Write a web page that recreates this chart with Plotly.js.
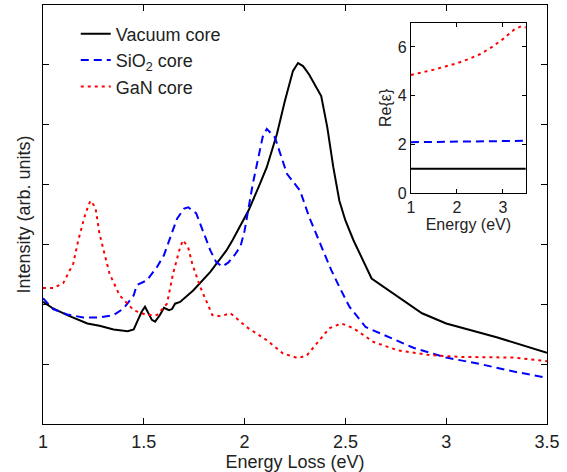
<!DOCTYPE html>
<html>
<head>
<meta charset="utf-8">
<script src="https://cdn.plot.ly/plotly-3.0.1.min.js"></script>
<style>html,body{margin:0;padding:0;background:#fff;}#chart{width:567px;height:472px;}</style>
</head>
<body>
<div id="chart"></div>
<script>
// Main panel: intensity vs energy loss
const vacX = [1.00,1.05,1.12,1.22,1.28,1.35,1.42,1.45,1.47,1.49,1.506,1.52,1.54,1.556,1.58,1.60,1.625,1.64,1.655,1.68,1.745,1.83,1.91,1.94,2.02,2.076,2.11,2.16,2.20,2.24,2.265,2.29,2.32,2.38,2.41,2.44,2.47,2.50,2.54,2.63,2.88,3.00,3.12,3.25,3.50];
const vacY = [2.04,1.93,1.82,1.68,1.64,1.58,1.55,1.58,1.73,1.88,1.96,1.87,1.74,1.71,1.82,1.94,1.90,1.92,2.01,2.04,2.23,2.54,2.90,3.07,3.57,4.01,4.29,4.84,5.40,5.90,6.03,5.98,5.84,5.48,4.96,4.29,3.73,3.40,3.07,2.43,1.85,1.68,1.57,1.45,1.19];

const sioX = [1.00,1.05,1.12,1.20,1.28,1.35,1.40,1.45,1.465,1.49,1.515,1.565,1.60,1.635,1.665,1.70,1.72,1.76,1.80,1.83,1.86,1.89,1.92,1.95,1.98,2.00,2.04,2.07,2.09,2.11,2.15,2.21,2.275,2.32,2.38,2.43,2.47,2.52,2.60,2.67,2.84,3.00,3.17,3.33,3.50];
const sioY = [2.10,1.92,1.83,1.78,1.78,1.82,1.93,2.15,2.32,2.36,2.40,2.62,2.82,3.15,3.43,3.60,3.62,3.52,3.18,2.90,2.70,2.63,2.70,2.82,2.97,3.23,4.00,4.50,4.80,4.93,4.79,4.18,3.90,3.46,2.96,2.57,2.29,1.96,1.62,1.52,1.27,1.11,1.00,0.88,0.77];

const ganX = [1.00,1.05,1.10,1.15,1.175,1.21,1.235,1.26,1.28,1.30,1.33,1.38,1.45,1.515,1.565,1.615,1.645,1.68,1.695,1.72,1.74,1.78,1.84,1.88,1.93,2.01,2.11,2.19,2.265,2.31,2.37,2.42,2.48,2.54,2.64,2.76,2.92,3.08,3.33,3.50];
const ganY = [2.27,2.27,2.35,2.68,3.07,3.51,3.73,3.62,3.18,2.90,2.51,2.15,1.90,1.82,1.82,2.01,2.51,2.95,3.07,2.95,2.68,2.29,1.82,1.80,1.85,1.62,1.40,1.18,1.10,1.15,1.40,1.60,1.68,1.60,1.37,1.23,1.15,1.12,1.11,1.05];

const xTickVals = [1,1.5,2,2.5,3,3.5];
const xTickText = ["1","1.5","2","2.5","3","3.5"];

// Inset: Re{eps} vs energy
const insetX = [1.0,1.25,1.5,1.75,2.0,2.25,2.5,2.75,3.0,3.25,3.4,3.5];
const insetVac = [1,1,1,1,1,1,1,1,1,1,1,1];
const insetSio = [2.09,2.095,2.10,2.105,2.11,2.115,2.12,2.125,2.13,2.14,2.145,2.15];
const insetGan = [4.85,4.95,5.07,5.20,5.33,5.50,5.70,5.98,6.32,6.72,6.85,6.80];
const insetXTicks = [1,2,3];
const insetYTicks = [0,2,4,6];

const FONT = "Liberation Sans, Arial, Helvetica, sans-serif";
const TXT = "#222";
const blueDash = "8px,5px";
const redDot = "3px,4px";

const traces = [
  {x: vacX, y: vacY, type: "scatter", mode: "lines", name: "Vacuum core",
   line: {color: "#000", width: 2}},
  {x: sioX, y: sioY, type: "scatter", mode: "lines", name: "SiO<sub>2</sub> core",
   line: {color: "#0000ff", width: 2, dash: blueDash}},
  {x: ganX, y: ganY, type: "scatter", mode: "lines", name: "GaN core",
   line: {color: "#ff0000", width: 2, dash: redDot}},
  {x: insetX, y: insetVac, xaxis: "x2", yaxis: "y2", type: "scatter", mode: "lines",
   showlegend: false, line: {color: "#000", width: 2}},
  {x: insetX, y: insetSio, xaxis: "x2", yaxis: "y2", type: "scatter", mode: "lines",
   showlegend: false, line: {color: "#0000ff", width: 2, dash: blueDash}},
  {x: insetX, y: insetGan, xaxis: "x2", yaxis: "y2", type: "scatter", mode: "lines",
   showlegend: false, line: {color: "#ff0000", width: 2, dash: redDot}}
];

const layout = {
  width: 567, height: 472,
  margin: {l: 43, r: 20, t: 5, b: 48},
  paper_bgcolor: "#fff", plot_bgcolor: "#fff",
  font: {family: FONT, size: 18, color: TXT},
  showlegend: true,
  legend: {x: 0.065, y: 0.975, xanchor: "left", yanchor: "top",
           bgcolor: "rgba(0,0,0,0)", font: {family: FONT, size: 18, color: TXT},
           tracegroupgap: 0, itemwidth: 30},
  xaxis: {range: [1, 3.5], domain: [0, 1], tickvals: xTickVals, ticktext: xTickText,
          ticks: "inside", ticklen: 6, tickcolor: "#000", showline: true, linecolor: "#000",
          linewidth: 1, mirror: "ticks", showgrid: false, zeroline: false,
          ticklabelstandoff: 1,
          tickfont: {family: FONT, size: 18, color: TXT},
          title: {text: "Energy Loss (eV)", font: {family: FONT, size: 18, color: TXT}, standoff: 0}},
  yaxis: {range: [0, 7], domain: [0, 1], dtick: 1, showticklabels: false,
          ticks: "inside", ticklen: 6, tickcolor: "#000", showline: true, linecolor: "#000",
          linewidth: 1, mirror: "ticks", showgrid: false, zeroline: false,
          title: {text: "Intensity (arb. units)", font: {family: FONT, size: 18, color: TXT}, standoff: 6}},
  xaxis2: {anchor: "y2", domain: [0.730, 0.958], range: [1, 3.5], tickvals: insetXTicks,
           ticks: "inside", ticklen: 4, tickcolor: "#000", showline: true, linecolor: "#000",
           linewidth: 1, mirror: "ticks", showgrid: false, zeroline: false,
           tickfont: {family: FONT, size: 16, color: TXT},
           title: {text: "Energy (eV)", font: {family: FONT, size: 16, color: TXT}, standoff: 0}},
  yaxis2: {anchor: "x2", domain: [0.551, 0.958], range: [0, 7], tickvals: insetYTicks,
           ticks: "inside", ticklen: 4, tickcolor: "#000", showline: true, linecolor: "#000",
           linewidth: 1, mirror: "ticks", showgrid: false, zeroline: false,
           tickfont: {family: FONT, size: 16, color: TXT},
           title: {text: "Re{ε}", font: {family: FONT, size: 16, color: TXT}, standoff: 2}}
};

Plotly.newPlot("chart", traces, layout, {displayModeBar: false, staticPlot: true});
</script>
</body>
</html>
